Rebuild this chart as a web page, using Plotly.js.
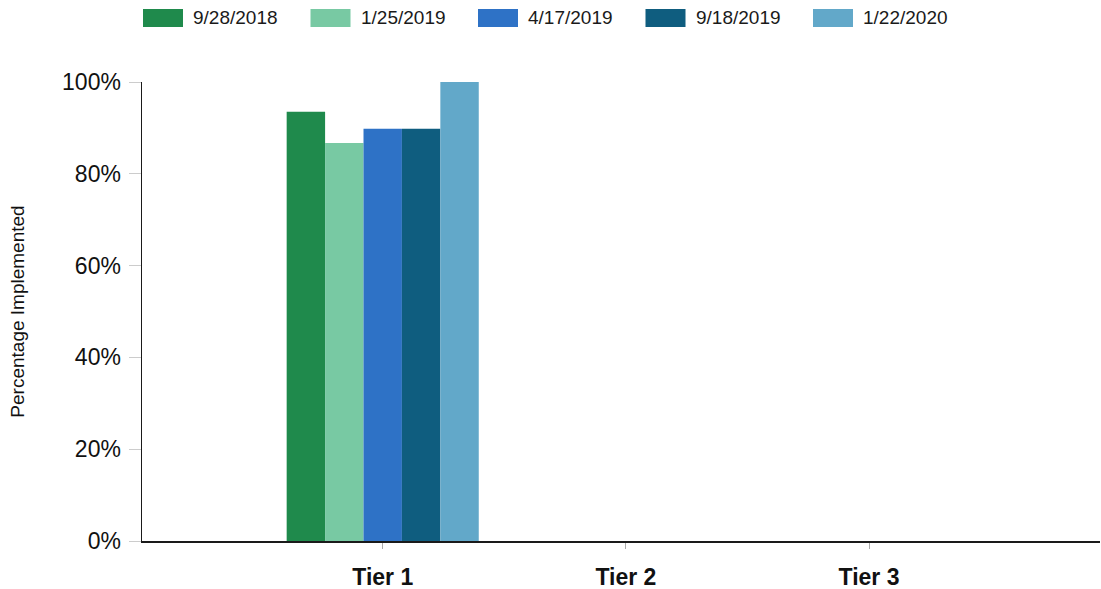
<!DOCTYPE html>
<html>
<head>
<meta charset="utf-8">
<script src="https://cdn.plot.ly/plotly-3.0.1.min.js"></script>
<style>html,body{margin:0;padding:0;background:#fff;}#chart{width:1101px;height:589px;}</style>
</head>
<body>
<div id="chart"></div>
<script>
const categories = ['Tier 1', 'Tier 2', 'Tier 3'];
const seriesNames = ['9/28/2018', '1/25/2019', '4/17/2019', '9/18/2019', '1/22/2020'];
const s2018_09_28 = [0.935, 0, 0];
const s2019_01_25 = [0.867, 0, 0];
const s2019_04_17 = [0.898, 0, 0];
const s2019_09_18 = [0.898, 0, 0];
const s2020_01_22 = [1.0, 0, 0];
const seriesValues = [s2018_09_28, s2019_01_25, s2019_04_17, s2019_09_18, s2020_01_22];
const colors = ['#1f8a4c', '#78c9a3', '#2e72c6', '#0f5d7f', '#62a8c9'];
const yTickVals = [0, 0.2, 0.4, 0.6, 0.8, 1.0];
const yTickText = ['0%', '20%', '40%', '60%', '80%', '100%'];

const W = 1101, H = 589;
const M = {l: 142, r: 1, t: 82, b: 48};
const plotW = W - M.l - M.r, plotH = H - M.t - M.b;
const px2x = p => (p - M.l) / plotW;
const py2y = p => (H - M.b - p) / plotH;

const traces = seriesNames.map((name, i) => ({
  type: 'bar',
  name: name,
  x: categories,
  y: seriesValues[i],
  marker: {color: colors[i], line: {width: 0}},
  showlegend: false
}));

// Legend drawn as swatches + text (wide rectangular swatches like the original)
const legendStart = 143, legendStep = 167.5, swW = 40, swTop = 9, swBot = 27;
const shapes = seriesNames.map((name, i) => ({
  type: 'rect', xref: 'paper', yref: 'paper',
  x0: px2x(legendStart + legendStep * i), x1: px2x(legendStart + legendStep * i + swW),
  y0: py2y(swBot), y1: py2y(swTop),
  fillcolor: colors[i], line: {width: 0}
}));
const annotations = seriesNames.map((name, i) => ({
  xref: 'paper', yref: 'paper',
  x: px2x(legendStart + legendStep * i + swW + 8), y: py2y((swTop + swBot) / 2),
  xanchor: 'left', yanchor: 'middle',
  text: name, showarrow: false,
  font: {size: 19, color: '#1a1a1a'}
}));

const layout = {
  width: W,
  height: H,
  margin: M,
  paper_bgcolor: '#ffffff',
  plot_bgcolor: '#ffffff',
  font: {family: 'Liberation Sans, Arial, sans-serif', color: '#1a1a1a'},
  barmode: 'group',
  bargap: 0.21,
  bargroupgap: 0,
  showlegend: false,
  shapes: shapes,
  annotations: annotations,
  xaxis: {
    type: 'category',
    range: [-0.99, 2.95],
    showgrid: false,
    zeroline: false,
    showline: true,
    linecolor: '#1a1a1a',
    linewidth: 1.5,
    ticks: 'outside',
    ticklen: 6,
    tickcolor: '#aaaaaa',
    tickfont: {size: 23, weight: 'bold', color: '#111111'},
    ticklabelstandoff: 9
  },
  yaxis: {
    range: [0, 1.0],
    tickvals: yTickVals,
    ticktext: yTickText,
    showgrid: false,
    zeroline: false,
    showline: true,
    linecolor: '#1a1a1a',
    linewidth: 1.5,
    ticks: 'outside',
    ticklen: 12,
    tickcolor: '#cccccc',
    tickfont: {size: 23, color: '#111111'},
    ticklabelstandoff: 3,
    title: {text: 'Percentage Implemented', font: {size: 19, color: '#111111'}, standoff: 32},
    automargin: false
  }
};

Plotly.newPlot('chart', traces, layout, {displayModeBar: false, staticPlot: true});
</script>
</body>
</html>
